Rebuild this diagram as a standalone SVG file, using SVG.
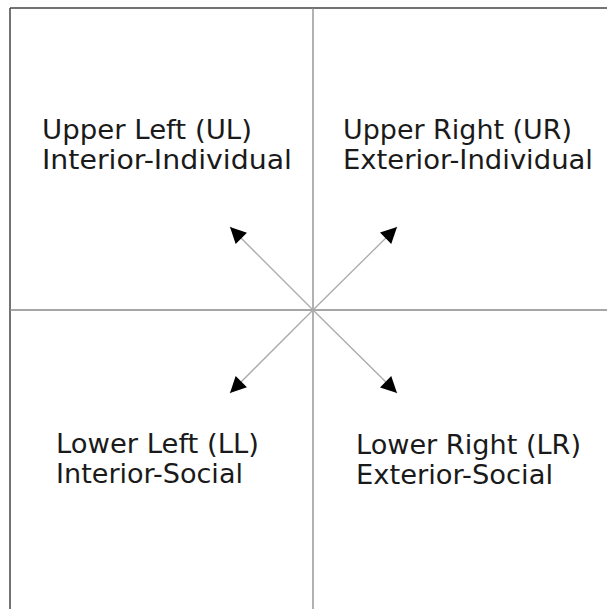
<svg xmlns="http://www.w3.org/2000/svg" width="607" height="609" viewBox="0 0 607 609">
<style>
.t{font-family:"DejaVu Sans","Liberation Sans",sans-serif;font-size:26px;fill:#1a1a1a}
.frame{stroke:#444;stroke-width:1.5;fill:none}
.axis{stroke:#888;stroke-width:1.3;fill:none}
.conn{stroke:#aaa;stroke-width:1.3;fill:none}
</style>
<defs>
<marker id="ah" viewBox="0 0 10 10" refX="10" refY="5" markerWidth="18" markerHeight="16" markerUnits="userSpaceOnUse" orient="auto">
<path d="M0,0 L10,5 L0,10 Z" fill="#000"/>
</marker>
</defs>
<rect width="607" height="609" fill="#fff"/>
<g id="frame">
<line class="frame" x1="10" y1="8" x2="607" y2="8"/>
<line class="frame" x1="10" y1="8" x2="10" y2="609"/>
<line class="axis" x1="313" y1="8" x2="313" y2="609"/>
<line class="axis" x1="10" y1="310" x2="607" y2="310"/>
</g>
<g id="connectors">
<line class="conn" x1="313" y1="310" x2="230" y2="227" marker-end="url(#ah)"/>
<line class="conn" x1="313" y1="310" x2="397" y2="227" marker-end="url(#ah)"/>
<line class="conn" x1="313" y1="310" x2="230" y2="393" marker-end="url(#ah)"/>
<line class="conn" x1="313" y1="310" x2="397" y2="393" marker-end="url(#ah)"/>
</g>
<g id="UL">
<text class="t" x="42" y="139" textLength="210" lengthAdjust="spacingAndGlyphs">Upper Left (UL)</text>
<text class="t" x="42" y="169" textLength="250" lengthAdjust="spacingAndGlyphs">Interior-Individual</text>
</g>
<g id="UR">
<text class="t" x="343" y="139" textLength="229" lengthAdjust="spacingAndGlyphs">Upper Right (UR)</text>
<text class="t" x="343" y="169" textLength="250" lengthAdjust="spacingAndGlyphs">Exterior-Individual</text>
</g>
<g id="LL">
<text class="t" x="56" y="453" textLength="203" lengthAdjust="spacingAndGlyphs">Lower Left (LL)</text>
<text class="t" x="56" y="483" textLength="187" lengthAdjust="spacingAndGlyphs">Interior-Social</text>
</g>
<g id="LR">
<text class="t" x="356" y="454" textLength="225" lengthAdjust="spacingAndGlyphs">Lower Right (LR)</text>
<text class="t" x="356" y="484" textLength="197" lengthAdjust="spacingAndGlyphs">Exterior-Social</text>
</g>
</svg>
